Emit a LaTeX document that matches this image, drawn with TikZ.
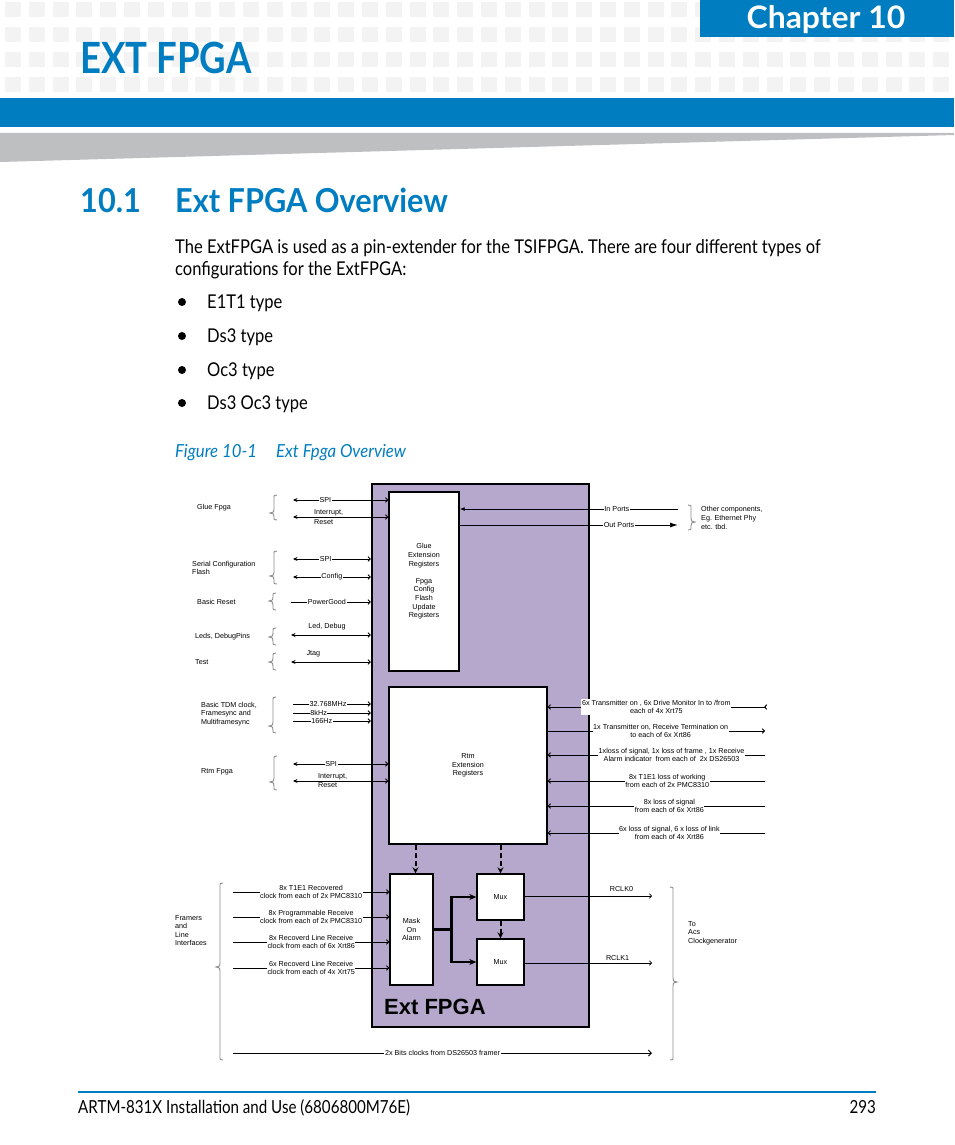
\documentclass[tikz,border=0pt]{standalone}
\usepackage{fontspec}
\setmainfont{Lato}
\newfontfamily\bodyfont[FakeStretch=0.87]{Lato}
\newfontfamily\footfont[FakeStretch=0.84]{Lato}
\newfontfamily\capfont[FakeStretch=0.93]{Lato}
\newfontfamily\titlefont[FakeStretch=0.85]{Lato}
\newfontfamily\secfont[FakeStretch=0.93]{Lato}
\newfontfamily\chapfont[FakeStretch=1.03]{Lato}
\newfontfamily\figfont{Liberation Sans}
\usetikzlibrary{arrows.meta,positioning,calc}
\definecolor{docblue}{RGB}{0,125,192}
\definecolor{fpgapurple}{RGB}{181,168,204}
\definecolor{gridgray}{RGB}{243,243,243}
\definecolor{wedgegray}{RGB}{190,191,193}
% x, top, tip, bottom, side (1 opens right, -1 opens left)
\newcommand{\grpbrace}[5]{\draw[brc] ({#1+3*(#5)},#2) .. controls (#1,#2) .. (#1,#2+4) -- (#1,#3-4)
 .. controls (#1,#3-1) .. ({#1-4*(#5)},#3) .. controls (#1,#3+1) .. (#1,#3+4) -- (#1,#4-4)
 .. controls (#1,#4) .. ({#1+3*(#5)},#4);}

\begin{document}
\begin{tikzpicture}[x=1pt,y=-1pt,>=Stealth,
 txt/.style={font=\figfont\fontsize{7.2}{8.6}\selectfont,inner sep=0pt},
 lbl/.style={txt,fill=white,inner sep=0.6pt,align=center},
 reg/.style={draw=black,line width=1.4,fill=white,txt,align=center},
 brc/.style={draw=black!45,line width=0.9},
 dbl/.style={line width=0.9,{Stealth[length=4.5,width=4]}-{Straight Barb[length=2.2,width=4.5]}},
 sgl/.style={line width=0.9,-{Straight Barb[length=2.2,width=4.5]}},
 bck/.style={line width=0.9,{Straight Barb[length=2.2,width=4.5]}-},
 thk/.style={line width=2.6,-{Stealth[length=7,width=6]}},
 dsh/.style={line width=2,dash pattern=on 5pt off 3pt,-{Stealth[length=6,width=6]}},
 body/.style={font=\bodyfont\fontsize{19}{23}\selectfont,inner sep=0pt,anchor=base west}]
\useasboundingbox (0,0) rectangle (954,1145);
% page head
\foreach \r in {2,27,52,77} \foreach \c in {0,...,39}
 \fill[gridgray] ({5+\c*23.8},\r) rectangle ++(16,15);
\fill[docblue] (700,0) rectangle (954,37);
\node[anchor=base,text=white,inner sep=0,font=\chapfont\bfseries\fontsize{31}{31}\selectfont] (chap) at (826,28.5) {Chapter 10};
\node[anchor=base west,text=docblue,inner sep=0,font=\titlefont\bfseries\fontsize{43}{43}\selectfont] (title) at (80,74) {EXT FPGA};
\fill[docblue] (0,98) rectangle (954,127);
\fill[wedgegray] (0,133) -- (954,133) -- (954,135) -- (0,162) -- cycle;
\node[anchor=base west,text=docblue,inner sep=0,font=\secfont\bfseries\fontsize{33}{33}\selectfont] (secno) at (80,212) {10.1};
\node[anchor=base west,text=docblue,inner sep=0,font=\secfont\bfseries\fontsize{33}{33}\selectfont] (sec) at (175,212) {Ext FPGA Overview};
\node[body] (par1) at (175,253) {The ExtFPGA is used as a pin-extender for the TSIFPGA. There are four different types of};
\node[body] (par2) at (175,275) {configurations for the ExtFPGA:};
\foreach \yy/\t [count=\i] in {308/E1T1 type,342/Ds3 type,376/Oc3 type,409/Ds3 Oc3 type}{
 \fill (182,\yy-6) circle (4);
 \node[body] (item\i) at (207,\yy) {\t};}
\node[body,text=docblue,font=\capfont\itshape\fontsize{18}{22}\selectfont] (fig) at (175,457) {Figure 10-1};
\node[body,text=docblue,font=\capfont\itshape\fontsize{18}{22}\selectfont] (figt) at (276,457) {Ext Fpga Overview};

% ext fpga
\node[draw=black,line width=2.4,fill=fpgapurple,minimum width=217,minimum height=543,inner sep=0] (fpga) at (480.5,755.5) {};
\node[anchor=base west,inner sep=0,font=\figfont\bfseries\fontsize{22}{22}\selectfont] (fpgat) at (384,1014) {Ext FPGA};
\node[reg,minimum width=70,minimum height=179] (glue) at (424,581.5) {Glue\\Extension\\Registers\\[8.6pt]Fpga\\Config\\Flash\\Update\\Registers};
\node[reg,minimum width=158,minimum height=157] (rtm) at (468,765.5) {Rtm\\Extension\\Registers};
\node[reg,minimum width=43,minimum height=111] (mask) at (411.5,929.5) {Mask\\On\\Alarm};
\node[reg,minimum width=47,minimum height=46] (mux1) at (500.5,897) {Mux};
\node[reg,minimum width=47,minimum height=46] (mux2) at (500.5,962) {Mux};
\draw[dsh] ($(rtm.south)!(mask.north)!(rtm.south west)+(4,0)$) -- ($(mask.north)+(4,0)$);
\draw[dsh] (rtm.south -| mux1.north) -- (mux1.north);
\draw[dsh] (mux1.south) -- (mux2.north);
\coordinate (br) at ($(mask.east)+(18,0)$);
\draw[line width=2.6] (mask.east) -- (br);
\draw[thk] (br) |- (mux1.west);
\draw[thk] (br) |- (mux2.west);

% left side
\node[txt,anchor=west] (lglue) at (197,508) {Glue Fpga};
\node[txt,anchor=west,align=left] (lflash) at (192,568) {Serial Configuration\\Flash};
\node[txt,anchor=west] (lreset) at (197,602) {Basic Reset};
\node[txt,anchor=west] (lleds) at (195,637) {Leds, DebugPins};
\node[txt,anchor=west] (ltest) at (195,662) {Test};
\node[txt,anchor=west,align=left] (ltdm) at (201,714) {Basic TDM clock,\\Framesync and\\Multiframesync};
\node[txt,anchor=west] (lrtm) at (201,772) {Rtm Fpga};
\node[txt,anchor=west,align=left] (lfram) at (175,930.5) {Framers\\and\\Line\\Interfaces};
\grpbrace{274}{495}{513}{520}{1}
\grpbrace{274}{551}{576}{584}{1}
\grpbrace{273}{593}{601}{610}{1}
\grpbrace{273}{628}{637}{645}{1}
\grpbrace{273}{653}{662}{670}{1}
\grpbrace{273}{697}{726}{733}{1}
\grpbrace{274}{756}{782}{790}{1}
\grpbrace{220}{883}{967}{1060}{1}

\coordinate (gspi) at (293,500); \coordinate (gint) at (293,517);
\coordinate (fspi) at (293,559); \coordinate (fcfg) at (293,577);
\coordinate (pgood) at (291,602); \coordinate (leds) at (291,635);
\coordinate (jtag) at (291,662);
\coordinate (clka) at (293,704); \coordinate (clkb) at (293,713);
\coordinate (clkc) at (293,721);
\coordinate (rspi) at (293,764); \coordinate (rint) at (293,781);
\draw[dbl] (gspi) -- node[lbl,pos=.34]{SPI} (glue.west |- gspi);
\draw[dbl] (gint) -- (glue.west |- gint);
\node[txt,anchor=west,align=left,font=\figfont\fontsize{7.2}{10}\selectfont] (tgint) at (314,517) {Interrupt,\\Reset};
\draw[dbl] (fspi) -- node[lbl,pos=.42]{SPI} (fpga.west |- fspi);
\draw[dbl] (fcfg) -- node[lbl,pos=.5]{Config} (fpga.west |- fcfg);
\draw[sgl] (pgood) -- node[lbl,pos=.45]{PowerGood} (fpga.west |- pgood);
\draw[dbl] (leds) -- node[txt,pos=.45,above=5pt]{Led, Debug} (fpga.west |- leds);
\draw[dbl] (jtag) -- node[txt,pos=.28,above=5pt]{Jtag} (fpga.west |- jtag);
\draw[sgl] (clka) -- node[lbl,pos=.45]{32.768MHz} (fpga.west |- clka);
\draw[sgl] (clkb) -- node[lbl,pos=.33]{8kHz} (fpga.west |- clkb);
\draw[sgl] (clkc) -- node[lbl,pos=.37]{166Hz} (fpga.west |- clkc);
\draw[dbl] (rspi) -- node[lbl,pos=.4]{SPI} (rtm.west |- rspi);
\draw[dbl] (rint) -- (rtm.west |- rint);
\node[txt,anchor=west,align=left,font=\figfont\fontsize{7.2}{9.5}\selectfont] (trint) at (318,780.5) {Interrupt,\\Reset};

\coordinate (fra) at (233,892); \coordinate (frb) at (233,917);
\coordinate (frc) at (233,942); \coordinate (frd) at (233,968);
\coordinate (bits) at (233,1053); \coordinate (bitsend) at (652,1053);
\draw[sgl] (fra) -- node[lbl,pos=.5]{8x T1E1 Recovered\\clock from each of 2x PMC8310} (mask.west |- fra);
\draw[sgl] (frb) -- node[lbl,pos=.5]{8x Programmable Receive\\clock from each of 2x PMC8310} (mask.west |- frb);
\draw[sgl] (frc) -- node[lbl,pos=.5]{8x Recoverd Line Receive\\clock from each of 6x Xrt86} (mask.west |- frc);
\draw[sgl] (frd) -- node[lbl,pos=.5]{6x Recoverd Line Receive\\clock from each of 4x Xrt75} (mask.west |- frd);
\draw[line width=0.9,-{Straight Barb[length=3,width=6]}] (bits) -- node[lbl,pos=.5]{2x Bits clocks from DS26503 framer} (bitsend);

% right side
\coordinate (inp) at (678,509); \coordinate (outp) at (678,525);
\draw[line width=0.9,-{Latex[length=5,width=4]}] (inp) -- node[lbl,pos=.28]{In Ports} (glue.east |- inp);
\draw[line width=0.9,-{Latex[length=8,width=5]}] (glue.east |- outp) -- node[lbl,pos=.73]{Out Ports} (outp);
\grpbrace{691}{505}{522}{530}{-1}
\node[txt,anchor=west,align=left] (lother) at (701,518) {Other components,\\Eg. Ethernet Phy\\etc. tbd.};

\coordinate (ra) at (765,707); \coordinate (rb) at (765,731);
\coordinate (rc) at (765,755); \coordinate (rd) at (765,781);
\coordinate (re) at (765,806); \coordinate (rf) at (765,833);
\draw[bck] (rtm.east |- ra) -- node[lbl,pos=.5]{6x Transmitter on , 6x Drive Monitor In to /from\\each of 4x Xrt75} (ra);
\draw[sgl] (ra) -- ++(-1,0);
\draw[sgl] (rtm.east |- rb) -- node[lbl,pos=.52]{1x Transmitter on, Receive Termination on\\to each of 6x Xrt86} (rb);
\draw[bck] (rtm.east |- rc) -- node[lbl,pos=.57]{1xloss of signal, 1x loss of frame , 1x Receive\\Alarm indicator\ \ from each of\ \ 2x DS26503} (rc);
\draw[bck] (rtm.east |- rd) -- node[lbl,pos=.55]{8x T1E1 loss of working\\from each of 2x PMC8310} (rd);
\draw[bck] (rtm.east |- re) -- node[lbl,pos=.56]{8x loss of signal\\from each of 6x Xrt86} (re);
\draw[bck] (rtm.east |- rf) -- node[lbl,pos=.56]{6x loss of signal, 6 x loss of link\\from each of 4x Xrt86} (rf);

\coordinate (rclka) at (652,896); \coordinate (rclkb) at (652,963);
\draw[sgl,line width=0.7] (mux1.east |- rclka) -- node[txt,pos=.76,above=4pt]{RCLK0} (rclka);
\draw[sgl,line width=0.7] (mux2.east |- rclkb) -- node[txt,pos=.73,above=2.5pt]{RCLK1} (rclkb);
\grpbrace{673}{887}{982}{1060}{-1}
\node[txt,anchor=west,align=left] (lacs) at (688,933) {To\\Acs\\Clockgenerator};

% page foot
\draw[docblue,line width=2.5] (78,1092) -- (876,1092);
\node[body,font=\footfont\fontsize{18}{22}\selectfont] (foot) at (78,1113) {ARTM-831X Installation and Use (6806800M76E)};
\node[body,anchor=base east,font=\footfont\fontsize{18}{22}\selectfont] (page) at (876,1113) {293};
\end{tikzpicture}
\end{document}
